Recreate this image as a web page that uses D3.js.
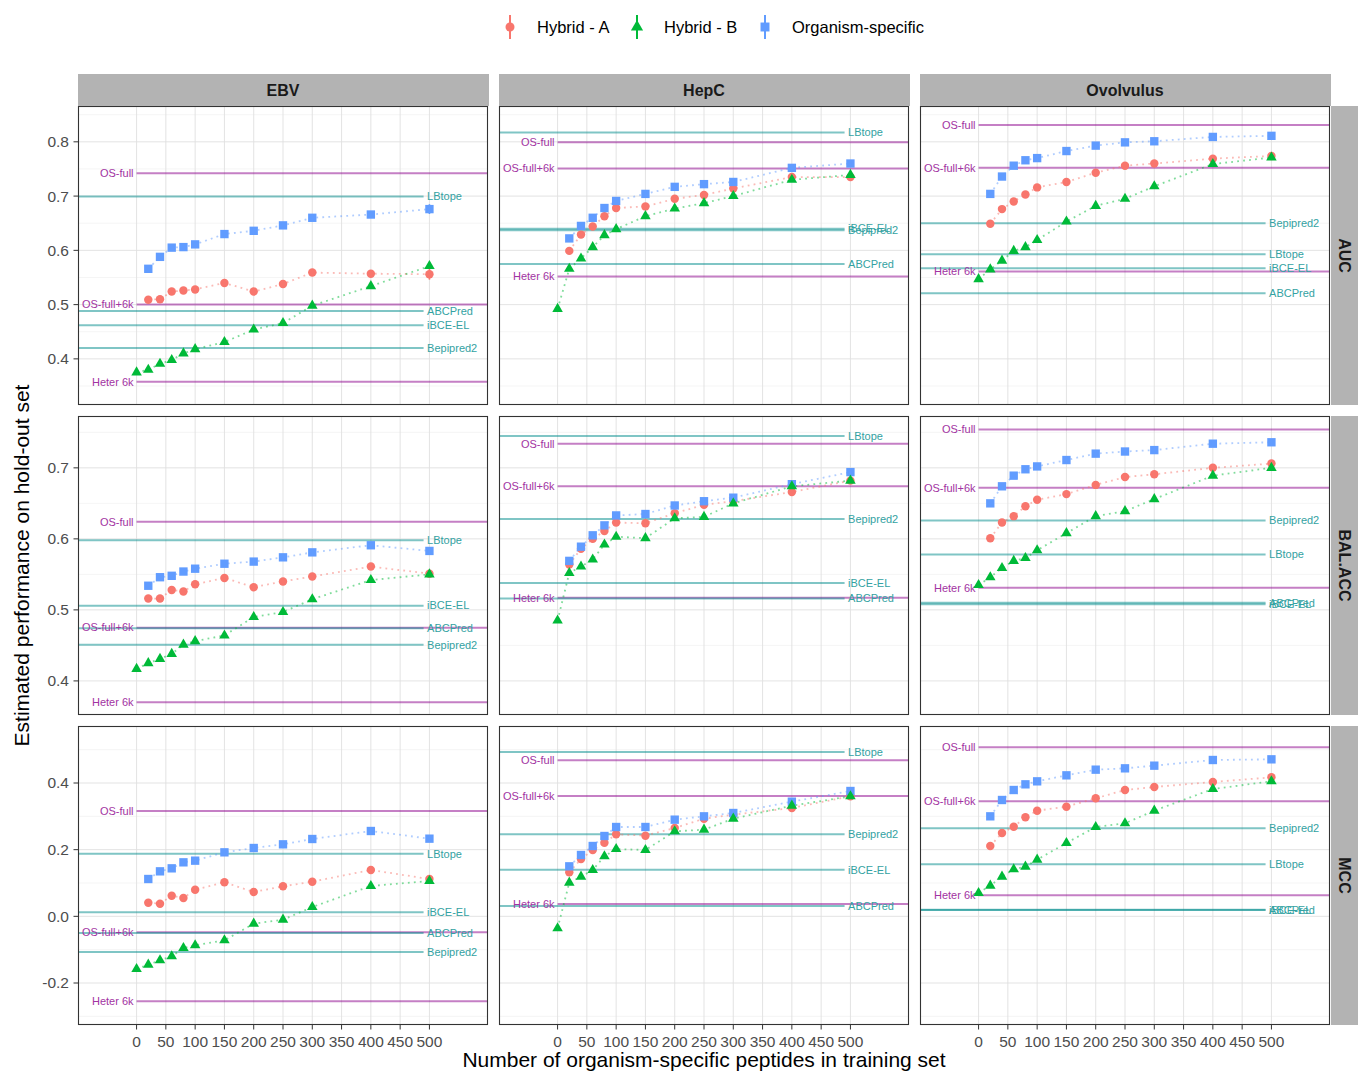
<!doctype html>
<html lang="en">
<head>
  <meta charset="utf-8">
  <title>Hybrid training curves</title>
  <style>
  body { margin: 0; background: #fff; }
  svg { display: block; font-family: "Liberation Sans", Arial, sans-serif; }
  .grid-major { stroke: #e0e0e0; stroke-width: 0.9; }
  .grid-minor { stroke: #f0f0f0; stroke-width: 0.7; }
  .tick-label { fill: #4d4d4d; font-size: 15.5px; }
  .strip-text { font-weight: bold; font-size: 16px; fill: #1a1a1a; }
  </style>
</head>
<body>
<div id="chart"></div>
<script src="https://cdn.jsdelivr.net/npm/d3@7"></script>
<script>

//------------------ data
var organisms = ["EBV", "HepC", "Ovolvulus"];
var metrics = ["AUC", "BAL.ACC", "MCC"];
var seriesNames = ["Hybrid - A", "Hybrid - B", "Organism-specific"];
var seriesColors = ["#F8766D", "#00BA38", "#619CFF"];

var peptidesB = [0, 20, 40, 60, 80, 100, 150, 200, 250, 300, 400, 500];
var peptidesA = [20, 40, 60, 80, 100, 150, 200, 250, 300, 400, 500];
var xTicks = [0, 50, 100, 150, 200, 250, 300, 350, 400, 450, 500];

var refNames = ["OS-full", "OS-full+6k", "Heter 6k", "LBtope", "ABCPred", "iBCE-EL", "Bepipred2"];
var refKinds = ["own", "own", "own", "tool", "tool", "tool", "tool"];

// y ticks / limits for each metric row
var yTicksAuc = [0.4, 0.5, 0.6, 0.7, 0.8];
var yTicksBal = [0.4, 0.5, 0.6, 0.7];
var yTicksMcc = [-0.2, 0.0, 0.2, 0.4];
var yMinorAuc = [0.35, 0.45, 0.55, 0.65, 0.75, 0.85];
var yMinorBal = [0.45, 0.55, 0.65, 0.75];
var yMinorMcc = [-0.3, -0.1, 0.1, 0.3, 0.5];
var yLimAuc = [0.315, 0.866];
var yLimBal = [0.352, 0.773];
var yLimMcc = [-0.326, 0.571];

// EBV
var ebvAucA  = [0.509, 0.510, 0.524, 0.526, 0.528, 0.540, 0.524, 0.538, 0.559, 0.557, 0.556];
var ebvAucB  = [0.375, 0.380, 0.391, 0.398, 0.410, 0.418, 0.431, 0.454, 0.466, 0.498, 0.534, 0.571];
var ebvAucOS = [0.566, 0.588, 0.605, 0.606, 0.611, 0.630, 0.636, 0.646, 0.660, 0.666, 0.676];
var ebvAucRef = [0.742, 0.500, 0.358, 0.699, 0.488, 0.462, 0.420];

var ebvBalA  = [0.516, 0.516, 0.528, 0.526, 0.536, 0.545, 0.532, 0.540, 0.547, 0.561, 0.551];
var ebvBalB  = [0.417, 0.425, 0.431, 0.438, 0.451, 0.456, 0.464, 0.490, 0.497, 0.515, 0.542, 0.550];
var ebvBalOS = [0.534, 0.546, 0.548, 0.554, 0.558, 0.565, 0.568, 0.574, 0.581, 0.591, 0.583];
var ebvBalRef = [0.624, 0.475, 0.370, 0.598, 0.474, 0.506, 0.451];

var ebvMccA  = [0.041, 0.038, 0.062, 0.055, 0.080, 0.102, 0.073, 0.090, 0.104, 0.139, 0.112];
var ebvMccB  = [-0.158, -0.145, -0.132, -0.120, -0.095, -0.087, -0.072, -0.022, -0.010, 0.028, 0.091, 0.106];
var ebvMccOS = [0.112, 0.135, 0.144, 0.162, 0.167, 0.192, 0.205, 0.216, 0.232, 0.256, 0.233];
var ebvMccRef = [0.316, -0.048, -0.255, 0.188, -0.050, 0.012, -0.107];

// HepC
var hepAucA  = [0.599, 0.629, 0.644, 0.663, 0.678, 0.681, 0.695, 0.702, 0.714, 0.735, 0.735];
var hepAucB  = [0.492, 0.566, 0.585, 0.606, 0.628, 0.639, 0.663, 0.677, 0.687, 0.700, 0.730, 0.739];
var hepAucOS = [0.622, 0.645, 0.660, 0.678, 0.691, 0.704, 0.717, 0.722, 0.726, 0.752, 0.760];
var hepAucRef = [0.799, 0.751, 0.552, 0.817, 0.575, 0.640, 0.637];

var hepBalA  = [0.564, 0.586, 0.600, 0.611, 0.623, 0.622, 0.636, 0.648, 0.653, 0.666, 0.682];
var hepBalB  = [0.485, 0.552, 0.561, 0.571, 0.592, 0.603, 0.601, 0.629, 0.631, 0.650, 0.674, 0.682];
var hepBalOS = [0.569, 0.589, 0.605, 0.619, 0.633, 0.635, 0.647, 0.653, 0.658, 0.677, 0.694];
var hepBalRef = [0.734, 0.674, 0.517, 0.745, 0.516, 0.538, 0.628];

var hepMccA  = [0.132, 0.172, 0.199, 0.221, 0.246, 0.242, 0.265, 0.293, 0.305, 0.325, 0.360];
var hepMccB  = [-0.036, 0.101, 0.119, 0.139, 0.180, 0.202, 0.199, 0.255, 0.260, 0.293, 0.332, 0.360];
var hepMccOS = [0.150, 0.184, 0.211, 0.241, 0.268, 0.268, 0.290, 0.300, 0.310, 0.344, 0.376];
var hepMccRef = [0.468, 0.361, 0.037, 0.493, 0.031, 0.140, 0.246];

// Ovolvulus
var ovoAucA  = [0.649, 0.676, 0.690, 0.703, 0.716, 0.726, 0.743, 0.756, 0.760, 0.769, 0.774];
var ovoAucB  = [0.547, 0.565, 0.581, 0.599, 0.606, 0.619, 0.653, 0.682, 0.695, 0.718, 0.759, 0.771];
var ovoAucOS = [0.704, 0.736, 0.756, 0.766, 0.770, 0.783, 0.793, 0.799, 0.801, 0.809, 0.811];
var ovoAucRef = [0.831, 0.752, 0.561, 0.593, 0.521, 0.567, 0.650];

var ovoBalA  = [0.601, 0.623, 0.632, 0.646, 0.655, 0.663, 0.676, 0.687, 0.691, 0.700, 0.706];
var ovoBalB  = [0.535, 0.546, 0.559, 0.569, 0.573, 0.584, 0.608, 0.632, 0.639, 0.656, 0.689, 0.700];
var ovoBalOS = [0.650, 0.674, 0.689, 0.698, 0.702, 0.711, 0.720, 0.723, 0.725, 0.734, 0.736];
var ovoBalRef = [0.754, 0.672, 0.531, 0.578, 0.510, 0.508, 0.626];

var ovoMccA  = [0.211, 0.250, 0.269, 0.297, 0.317, 0.329, 0.354, 0.379, 0.388, 0.403, 0.417];
var ovoMccB  = [0.070, 0.092, 0.119, 0.141, 0.149, 0.170, 0.220, 0.268, 0.279, 0.317, 0.382, 0.405];
var ovoMccOS = [0.300, 0.349, 0.379, 0.396, 0.405, 0.423, 0.440, 0.444, 0.452, 0.469, 0.471];
var ovoMccRef = [0.507, 0.345, 0.063, 0.156, 0.020, 0.019, 0.264];

// visible error ranges: [organism, metric, series, x, low, high]
var errBars = [
  ["EBV", "AUC", 0, 500, 0.546, 0.566],
  ["EBV", "AUC", 2, 500, 0.667, 0.685]
];

//------------------ tables built from the arrays
var rowTicks = [yTicksAuc, yTicksBal, yTicksMcc];
var rowMinor = [yMinorAuc, yMinorBal, yMinorMcc];
var rowLims = [yLimAuc, yLimBal, yLimMcc];
var panelSeries = [
  [[ebvAucA, ebvAucB, ebvAucOS], [hepAucA, hepAucB, hepAucOS], [ovoAucA, ovoAucB, ovoAucOS]],
  [[ebvBalA, ebvBalB, ebvBalOS], [hepBalA, hepBalB, hepBalOS], [ovoBalA, ovoBalB, ovoBalOS]],
  [[ebvMccA, ebvMccB, ebvMccOS], [hepMccA, hepMccB, hepMccOS], [ovoMccA, ovoMccB, ovoMccOS]]
];
var panelRefs = [
  [ebvAucRef, hepAucRef, ovoAucRef],
  [ebvBalRef, hepBalRef, ovoBalRef],
  [ebvMccRef, hepMccRef, ovoMccRef]
];

//------------------ layout
var width = 1358, height = 1073;
var colX = [78, 499, 920];
var rowY = [106, 416, 726];
var panelW = 410, panelH = 299;
var stripH = 32, stripW = 27;

var purple = "#8B008B", teal = "#008B8B";
var purpleText = "#A233A2", tealText = "#33A2A2";

var svg = d3.select("#chart").append("svg")
    .attr("width", width).attr("height", height);
svg.append("rect").attr("width", width).attr("height", height).attr("fill", "#fff");

var fmt = function(v) { return d3.format(".1f")(v).replace("\u2212", "-"); };

var symbols = [
  d3.symbol().type(d3.symbolCircle).size(56),
  d3.symbol().type(d3.symbolTriangle).size(48),
  d3.symbol().type(d3.symbolSquare).size(70)
];
var drawOrder = [0, 2, 1];

var defs = svg.append("defs");

metrics.forEach(function(metric, r) {
  organisms.forEach(function(org, c) {
    var x0 = colX[c], y0 = rowY[r];
    var x = d3.scaleLinear().domain([-100, 600]).range([x0, x0 + panelW]);
    var y = d3.scaleLinear().domain(rowLims[r]).range([y0 + panelH, y0]);

    var clipId = "clip-" + r + "-" + c;
    defs.append("clipPath").attr("id", clipId)
      .append("rect").attr("x", x0).attr("y", y0).attr("width", panelW).attr("height", panelH);

    var g = svg.append("g");
    g.append("rect").attr("x", x0).attr("y", y0).attr("width", panelW).attr("height", panelH)
      .attr("fill", "#fff");

    // grid
    g.selectAll(".gm").data(rowMinor[r]).enter().append("line")
      .attr("class", "grid-minor")
      .attr("x1", x0).attr("x2", x0 + panelW)
      .attr("y1", function(d) { return y(d); }).attr("y2", function(d) { return y(d); });
    g.selectAll(".gy").data(rowTicks[r]).enter().append("line")
      .attr("class", "grid-major")
      .attr("x1", x0).attr("x2", x0 + panelW)
      .attr("y1", function(d) { return y(d); }).attr("y2", function(d) { return y(d); });
    g.selectAll(".gx").data(xTicks).enter().append("line")
      .attr("class", "grid-major")
      .attr("y1", y0).attr("y2", y0 + panelH)
      .attr("x1", function(d) { return x(d); }).attr("x2", function(d) { return x(d); });

    // reference lines
    var refs = panelRefs[r][c];
    var refG = g.append("g").attr("clip-path", "url(#" + clipId + ")");
    refNames.forEach(function(name, i) {
      var own = refKinds[i] == "own";
      refG.append("line")
        .attr("x1", own ? x(0) : x0)
        .attr("x2", own ? x0 + panelW : x(490))
        .attr("y1", y(refs[i])).attr("y2", y(refs[i]))
        .attr("stroke", own ? purple : teal)
        .attr("stroke-opacity", 0.5)
        .attr("stroke-width", 2);
    });
    refNames.forEach(function(name, i) {
      var own = refKinds[i] == "own";
      g.append("text")
        .attr("x", own ? x(0) - 3 : x(496))
        .attr("y", y(refs[i]))
        .attr("dy", "0.35em")
        .attr("text-anchor", own ? "end" : "start")
        .attr("font-size", "11px")
        .attr("fill", own ? purpleText : tealText)
        .text(name);
    });

    // series
    var line = d3.line().x(function(d) { return x(d[0]); }).y(function(d) { return y(d[1]); });
    var sets = panelSeries[r][c];
    var pts = sets.map(function(vals, s) {
      var xs = s == 1 ? peptidesB : peptidesA;
      return vals.map(function(v, i) { return [xs[i], v]; });
    });
    drawOrder.forEach(function(s) {
      g.append("path").datum(pts[s])
        .attr("d", line)
        .attr("fill", "none")
        .attr("stroke", seriesColors[s])
        .attr("stroke-opacity", 0.5)
        .attr("stroke-width", 1.8)
        .attr("stroke-dasharray", "1.8,4.2");
    });
    errBars.filter(function(e) { return e[0] == org && e[1] == metric; }).forEach(function(e) {
      g.append("line")
        .attr("x1", x(e[3])).attr("x2", x(e[3]))
        .attr("y1", y(e[4])).attr("y2", y(e[5]))
        .attr("stroke", seriesColors[e[2]]).attr("stroke-width", 1.6);
    });
    drawOrder.forEach(function(s) {
      g.selectAll(".pt" + s).data(pts[s]).enter().append("path")
        .attr("d", symbols[s])
        .attr("transform", function(d) { return "translate(" + x(d[0]) + "," + y(d[1]) + ")"; })
        .attr("fill", seriesColors[s]);
    });

    // border
    g.append("rect").attr("x", x0 + 0.5).attr("y", y0 + 0.5)
      .attr("width", panelW - 1).attr("height", panelH - 1)
      .attr("fill", "none").attr("stroke", "#333").attr("stroke-width", 1.1);

    // y axis on first column
    if (c == 0) {
      rowTicks[r].forEach(function(t) {
        svg.append("line").attr("x1", x0 - 4.5).attr("x2", x0)
          .attr("y1", y(t)).attr("y2", y(t))
          .attr("stroke", "#333").attr("stroke-width", 1);
        svg.append("text").attr("class", "tick-label")
          .attr("x", x0 - 9).attr("y", y(t)).attr("dy", "0.35em")
          .attr("text-anchor", "end").text(fmt(t));
      });
    }
    // x axis on last row
    if (r == metrics.length - 1) {
      xTicks.forEach(function(t) {
        svg.append("line").attr("x1", x(t)).attr("x2", x(t))
          .attr("y1", y0 + panelH).attr("y2", y0 + panelH + 4.5)
          .attr("stroke", "#333").attr("stroke-width", 1);
        svg.append("text").attr("class", "tick-label")
          .attr("x", x(t)).attr("y", y0 + panelH + 22)
          .attr("text-anchor", "middle").text(t);
      });
    }
    // top strips
    if (r == 0) {
      svg.append("rect").attr("x", x0).attr("y", y0 - stripH)
        .attr("width", panelW + 1).attr("height", stripH).attr("fill", "#b3b3b3");
      svg.append("text").attr("class", "strip-text")
        .attr("x", x0 + panelW / 2).attr("y", y0 - stripH / 2).attr("dy", "0.35em")
        .attr("text-anchor", "middle").text(org);
    }
    // right strips
    if (c == organisms.length - 1) {
      svg.append("rect").attr("x", x0 + panelW + 1).attr("y", y0)
        .attr("width", stripW).attr("height", panelH).attr("fill", "#b3b3b3");
      svg.append("text").attr("class", "strip-text")
        .attr("transform", "translate(" + (x0 + panelW + 1 + stripW / 2) + "," + (y0 + panelH / 2) + ") rotate(90)")
        .attr("dy", "0.35em")
        .attr("text-anchor", "middle").text(metric);
    }
  });
});

//------------------ axis titles
svg.append("text")
  .attr("x", (colX[0] + colX[2] + panelW) / 2).attr("y", 1067)
  .attr("text-anchor", "middle").attr("font-size", "21px").attr("fill", "#000")
  .text("Number of organism-specific peptides in training set");
svg.append("text")
  .attr("transform", "translate(29," + (rowY[0] + (rowY[2] + panelH - rowY[0]) / 2) + ") rotate(-90)")
  .attr("text-anchor", "middle").attr("font-size", "21px").attr("fill", "#000")
  .text("Estimated performance on hold-out set");

//------------------ legend
var legendX = [510, 637, 765];
var legendTextX = [537, 664, 792];
seriesNames.forEach(function(name, s) {
  var lg = svg.append("g").attr("transform", "translate(" + legendX[s] + ",27)");
  lg.append("line").attr("y1", -12).attr("y2", 12)
    .attr("stroke", seriesColors[s]).attr("stroke-width", 2);
  lg.append("path").attr("d", symbols[s].size(s == 2 ? 80 : 64)()).attr("fill", seriesColors[s]);
  svg.append("text").attr("x", legendTextX[s]).attr("y", 27).attr("dy", "0.35em")
    .attr("font-size", "16.5px").attr("fill", "#000").text(name);
});

</script>
</body>
</html>
